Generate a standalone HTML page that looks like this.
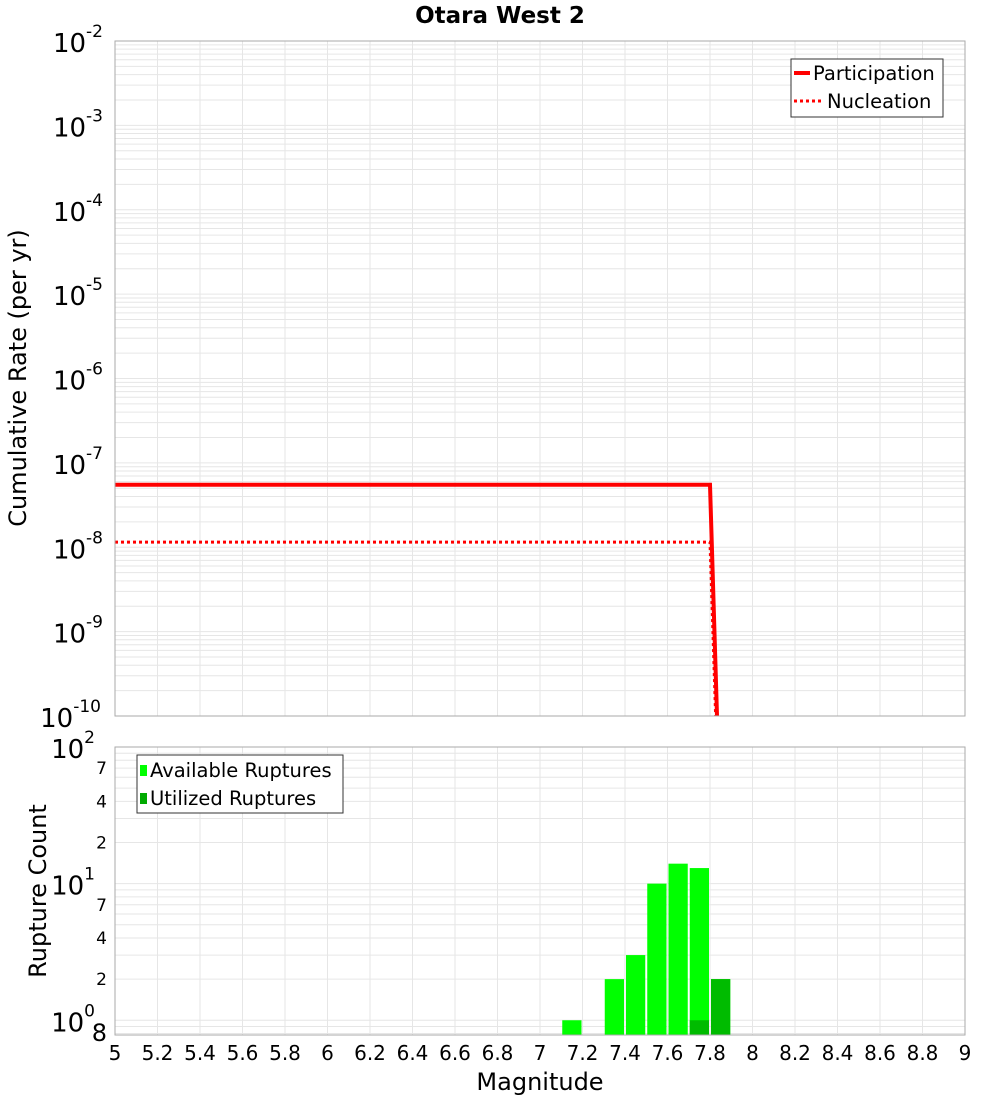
<!DOCTYPE html>
<html><head><meta charset="utf-8"><style>
html,body{margin:0;background:#fff;overflow:hidden;width:1000px;height:1100px;font-family:"Liberation Sans","DejaVu Sans",sans-serif}
svg{display:block}
svg text{font-family:"DejaVu Sans","Liberation Sans",sans-serif}
</style></head><body>
<svg id="c" width="1000" height="1100" xmlns="http://www.w3.org/2000/svg">
<text x="500" y="23" text-anchor="middle" font-size="23" font-weight="bold">Otara West 2</text>
<text transform="translate(26,378) rotate(-90)" text-anchor="middle" font-size="24">Cumulative Rate (per yr)</text>
<text transform="translate(46,891) rotate(-90)" text-anchor="middle" font-size="24">Rupture Count</text>
<text x="540" y="1090" text-anchor="middle" font-size="24">Magnitude</text>
<g id="g"></g>
</svg>
<script>
const mags=[5,7.8,7.9];
const partic=[5.5e-8,5.5e-8,2.7e-16];
const nucl=[1.15e-8,1.15e-8,2e-16];
const binCenters=[7.15,7.35,7.45,7.55,7.65,7.75,7.85];
const available=[1,2,3,10,14,13,2];
const utilized=[0,0,0,0,0,1,2];
const xTicks=["5","5.2","5.4","5.6","5.8","6","6.2","6.4","6.6","6.8","7","7.2","7.4","7.6","7.8","8","8.2","8.4","8.6","8.8","9"];
const topExps=[-2,-3,-4,-5,-6,-7,-8,-9,-10];

const NS="http://www.w3.org/2000/svg",G=document.getElementById('g');
function el(t,a,p){const e=document.createElementNS(NS,t);for(const k in a)e.setAttribute(k,a[k]);(p||G).appendChild(e);return e;}
const X0=115,X1=965;
const x=m=>X0+(m-5)/4*(X1-X0);
const T0=41,T1=716;
const yT=v=>T0+(-2-Math.log10(v))/8*(T1-T0);
const B0=747,B1=1035,BMIN=Math.log10(0.78);
const yB=v=>B0+(2-Math.log10(v))/(2-BMIN)*(B1-B0);

el('rect',{x:X0,y:T0,width:X1-X0,height:T1-T0,fill:'#fff'});
for(let d=-10;d<-2;d++)for(let k=1;k<10;k++){const v=k*Math.pow(10,d);const yy=yT(v);
 const l=el('line',{x1:X0,x2:X1,y1:yy,y2:yy,stroke:'#e6e6e6','stroke-width':1});
 }
xTicks.forEach(t=>{const xx=x(+t);
 const l=el('line',{x1:xx,x2:xx,y1:T0,y2:T1,stroke:'#e6e6e6'});
 
 const l2=el('line',{x1:xx,x2:xx,y1:B0,y2:B1,stroke:'#e6e6e6'});
 });
topExps.forEach(e=>{const yy=yT(Math.pow(10,e));
 const t=el('text',{x:e==-10?101:103,y:yy+11,'text-anchor':'end','font-size':26});
 
 t.textContent='10';const s=el('tspan',{'font-size':17,dy:-15},t);s.textContent=String(e);});
function line(vals,dash,name){let d='';mags.forEach((m,i)=>{d+=(i?'L':'M')+x(m)+','+yT(vals[i]);});
 const p=el('path',{d:d,fill:'none',stroke:'#ff0000','stroke-width':dash?3:4,'stroke-dasharray':dash?'3,3':'none','clip-path':'url(#clipT)'});
 }
const defs=el('defs',{});const cp=el('clipPath',{id:'clipT'},defs);el('rect',{x:X0,y:T0,width:X1-X0,height:T1-T0},cp);
line(nucl,true,'nucleation-line');line(partic,false,'participation-line');
el('rect',{x:X0,y:T0,width:X1-X0,height:T1-T0,fill:'none',stroke:'#aaa'});
const lg=el('g',{});
el('rect',{x:791,y:59,width:152,height:58,fill:'#fff',stroke:'#333'},lg);
el('line',{x1:794,x2:810,y1:73,y2:73,stroke:'red','stroke-width':4},lg);
el('line',{x1:794,x2:822,y1:101,y2:101,stroke:'red','stroke-width':3,'stroke-dasharray':'3,3'},lg);
let t=el('text',{x:813,y:80,'font-size':19.5},lg);t.textContent='Participation';
t=el('text',{x:827,y:108,'font-size':19.5},lg);t.textContent='Nucleation';

for(let d=-1;d<2;d++)for(let k=1;k<10;k++){const v=k*Math.pow(10,d);if(v<0.78)continue;const yy=yB(v);
 const l=el('line',{x1:X0,x2:X1,y1:yy,y2:yy,stroke:'#e6e6e6'});
 }
const bw=(X1-X0)/40;
binCenters.forEach((c,i)=>{
 if(available[i]>0){const r=el('rect',{x:x(c)-bw/2+1,y:yB(available[i]),width:bw-2,height:B1-yB(available[i]),fill:'#00ff00'});
  }
 if(utilized[i]>0){const r=el('rect',{x:x(c)-bw/2+1,y:yB(utilized[i]),width:bw-2,height:B1-yB(utilized[i]),fill:'#00bb00'});
  }
});
el('rect',{x:X0,y:B0,width:X1-X0,height:B1-B0,fill:'none',stroke:'#aaa'});
[[100,'10','2'],[10,'10','1'],[1,'10','0']].forEach(a=>{const yy=yB(a[0]);
 const t=el('text',{x:95,y:yy+11,'text-anchor':'end','font-size':26});
 
 t.textContent=a[1];const s=el('tspan',{'font-size':17,dy:-15},t);s.textContent=a[2];});
[[70,'7'],[40,'4'],[20,'2'],[7,'7'],[4,'4'],[2,'2'],[0.8,'8']].forEach(a=>{const yy=a[0]==0.8?B1:yB(a[0]);
 const t=el('text',{x:107,y:yy+6,'text-anchor':'end','font-size':a[0]==0.8?24:17});
 t.textContent=a[1];});
xTicks.forEach(s=>{const t=el('text',{x:x(+s),y:1060,'text-anchor':'middle','font-size':20});
 t.textContent=s;});
const lb=el('g',{});
el('rect',{x:137,y:755,width:206,height:58,fill:'#fff',stroke:'#333'},lb);
el('rect',{x:140,y:765,width:7,height:11,fill:'#00ff00'},lb);
el('rect',{x:140,y:793,width:7,height:11,fill:'#00aa00'},lb);
t=el('text',{x:150,y:777,'font-size':19.5},lb);t.textContent='Available Ruptures';
t=el('text',{x:150,y:805,'font-size':19.5},lb);t.textContent='Utilized Ruptures';
</script>
</body></html>
